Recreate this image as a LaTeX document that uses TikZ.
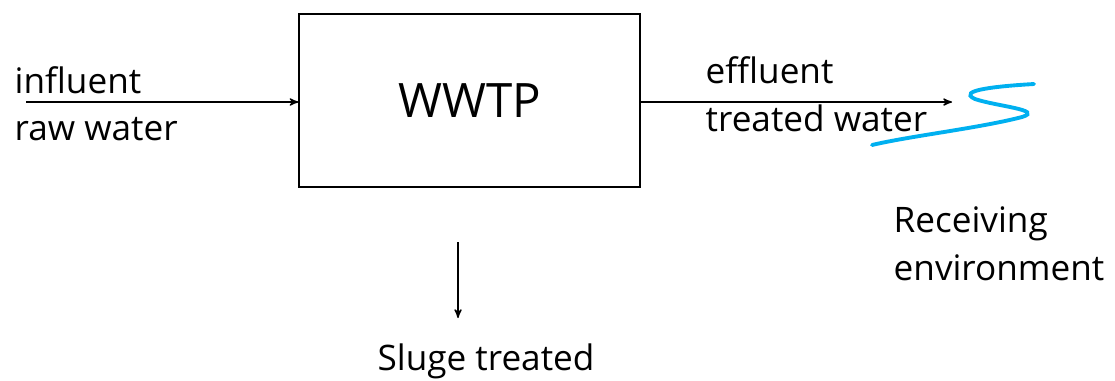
\documentclass[tikz,border=0pt]{standalone}
\usepackage{fontspec}
\setmainfont{Open Sans}
\usetikzlibrary{arrows}

\begin{document}
\begin{tikzpicture}[x=0.02cm,y=-0.02cm,->,>=stealth',thick,
  plant/.style={draw,minimum width=341*0.02cm,minimum height=173*0.02cm,
    font=\fontsize{27}{32}\selectfont},
  label text/.style={anchor=base west,inner sep=0pt,
    font=\fontsize{20}{27}\selectfont}]

  \useasboundingbox (0,0) rectangle (1115,380);

  \node[plant] (wwtp) at (469.5,100.5) {WWTP};

  \coordinate (in) at (26,102);
  \coordinate (out) at (952,102);
  \coordinate (sludge top) at (458,242);

  \node[label text] (influent) at (14,93) {influent};
  \node[label text] (raw) at (14,140) {raw water};
  \node[label text] (effluent) at (705,83) {effluent};
  \node[label text] (treated) at (705,131) {treated water};
  \node[label text] (receiving) at (893,232) {Receiving};
  \node[label text] (environment) at (893,280) {environment};
  \node[label text,anchor=base] (sludge) at (486,370) {Sluge treated};

  \path
    (in) edge (wwtp.west |- in)
    (wwtp.east |- out) edge (out)
    (sludge top) edge ([yshift=14pt]sludge top |- sludge.north);

  % receiving water
  \draw[-,color={rgb,255:red,0;green,176;blue,240},line width=2.2pt,line cap=round]
    (1034,84) .. controls (1000,86) and (955,90) .. (975,99)
    .. controls (995,106) and (1045,110) .. (1022,117)
    .. controls (980,128) and (910,136) .. (872,145);

\end{tikzpicture}
\end{document}
